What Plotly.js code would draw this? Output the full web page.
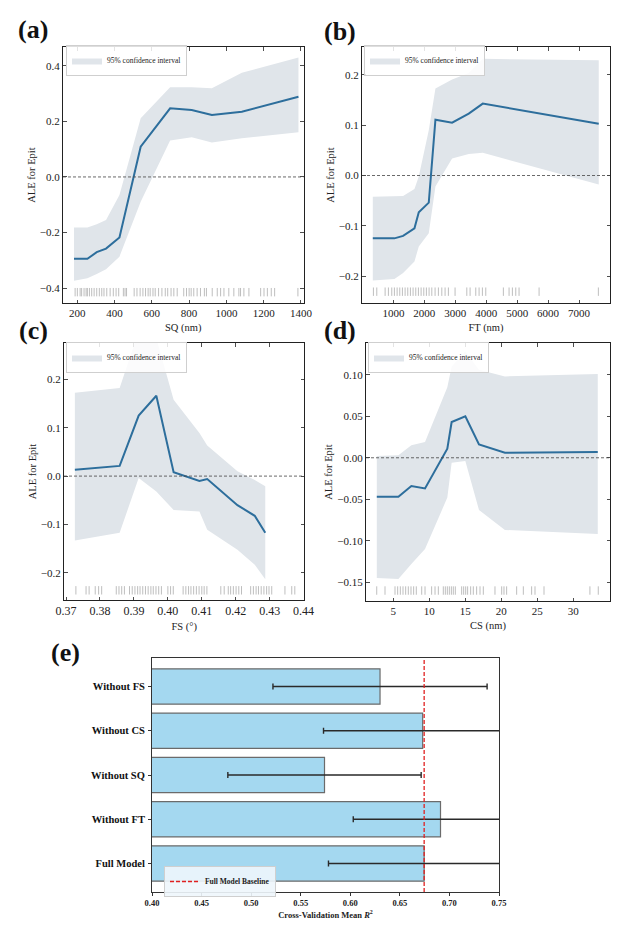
<!DOCTYPE html>
<html>
<head>
<meta charset="utf-8">
<script src="https://cdn.plot.ly/plotly-3.0.1.min.js"></script>
<style>html,body{margin:0;padding:0;background:#fff}#chart{width:634px;height:940px}</style>
</head>
<body>
<div id="chart"></div>
<script>
// ---------- Panel (a): SQ ----------
const sqX      = [182, 254, 304, 354, 426, 540, 698, 814, 922, 1083, 1387];
const sqALE    = [-0.295, -0.295, -0.271, -0.258, -0.218, 0.109, 0.247, 0.241, 0.223, 0.235, 0.289];
const sqUpper  = [-0.182, -0.182, -0.170, -0.155, -0.065, 0.211, 0.323, 0.323, 0.319, 0.375, 0.430];
const sqLower  = [-0.374, -0.365, -0.350, -0.332, -0.287, -0.089, 0.131, 0.143, 0.124, 0.139, 0.161];
const sqRug    = [188,200,215,223,236,247,254,265,277,290,304,318,331,343,358,376,393,408,422,447,456,464,
                  505,520,537,552,566,580,591,606,618,636,654,672,685,703,718,736,771,786,800,811,825,843,861,
                  882,893,924,951,969,987,1013,1040,1067,1076,1094,1121,1184,1202,1220,1241,1259,1384];
const sqTicks  = [200, 400, 600, 800, 1000, 1200, 1400];

// ---------- Panel (b): FT ----------
const ftX      = [334, 1033, 1313, 1680, 1820, 2143, 2358, 2897, 3435, 3888, 7636];
const ftALE    = [-0.125, -0.125, -0.120, -0.105, -0.073, -0.054, 0.111, 0.105, 0.123, 0.143, 0.103];
const ftUpper  = [-0.042, -0.042, -0.041, -0.027, -0.002, 0.090, 0.173, 0.191, 0.204, 0.232, 0.229];
const ftLower  = [-0.209, -0.206, -0.194, -0.171, -0.141, -0.115, -0.022, 0.034, 0.043, 0.045, -0.018];
const ftRug    = [354,463,732,839,947,1032,1120,1206,1291,1378,1464,1550,1636,1723,1808,1895,1982,2066,2153,
                  2241,2347,2454,2564,2670,2777,2993,3372,3478,3662,3769,3876,3985,4554,4738,4845,4955,5061,5708,7624];
const ftTicks  = [1000, 2000, 3000, 4000, 5000, 6000, 7000];

// ---------- Panel (c): FS ----------
const fsX      = [0.3726, 0.3858, 0.3914, 0.3966, 0.4017, 0.4093, 0.4116, 0.4205, 0.4256, 0.4287];
const fsALE    = [0.013, 0.021, 0.125, 0.166, 0.008, -0.010, -0.006, -0.060, -0.082, -0.117];
const fsUpper  = [0.172, 0.182, 0.300, 0.285, 0.158, 0.089, 0.063, 0.010, -0.008, -0.021];
const fsLower  = [-0.133, -0.117, -0.004, -0.032, -0.070, -0.073, -0.111, -0.152, -0.183, -0.213];
const fsRug    = [0.3729,0.3759,0.3768,0.3786,0.3796,0.3805,0.3848,0.3856,0.3864,0.3872,0.3887,0.3895,0.3903,
                  0.3911,0.3918,0.3926,0.3934,0.3942,0.3950,0.3957,0.3965,0.3973,0.3981,0.4000,0.4008,0.4016,
                  0.4045,0.4053,0.4061,0.4068,0.4076,0.4084,0.4092,0.4100,0.4107,0.4115,0.4156,0.4166,0.4178,
                  0.4185,0.4193,0.4201,0.4209,0.4217,0.4244,0.4252,0.4260,0.4267,0.4275,0.4283,0.4291,0.4298,
                  0.4306,0.4345,0.4365,0.4374];
const fsTicks  = [0.37, 0.38, 0.39, 0.40, 0.41, 0.42, 0.43, 0.44];

// ---------- Panel (d): CS ----------
const csX      = [2.7, 5.7, 7.5, 9.4, 12.5, 13.1, 15.0, 16.9, 20.5, 33.4];
const csALE    = [-0.047, -0.047, -0.034, -0.037, 0.011, 0.043, 0.050, 0.016, 0.006, 0.007];
const csUpper  = [0.002, 0.003, 0.015, 0.019, 0.085, 0.110, 0.128, 0.106, 0.098, 0.101];
const csLower  = [-0.145, -0.146, -0.128, -0.110, -0.048, -0.006, -0.004, -0.063, -0.087, -0.092];
const csRug    = [2.69,3.84,5.23,5.6,5.97,6.34,6.71,7.08,7.45,7.82,8.19,8.94,9.4,10.32,10.79,11.25,11.94,12.22,
                  12.5,12.78,13.06,13.33,13.61,14.49,14.77,15.05,15.32,15.74,16.11,16.57,17.04,17.5,19.12,20.05,
                  20.37,20.74,22.13,23.06,24.21,24.68,25.93,32.31,33.47];
const csTicks  = [5, 10, 15, 20, 25, 30];

// ---------- Panel (e): ablation ----------
const modelNames = ['Without FS', 'Without CS', 'Without SQ', 'Without FT', 'Full Model'];
const meanR2     = [0.630, 0.673, 0.574, 0.691, 0.6745];
const stdR2      = [0.108, 0.100, 0.0975, 0.088, 0.0965];
const baselineR2 = 0.6745;
const r2Ticks    = [0.40, 0.45, 0.50, 0.55, 0.60, 0.65, 0.70, 0.75];

// ---------- styling ----------
const SERIF = '"Liberation Serif", "Times New Roman", serif';
const W = 634, H = 940;
const LINE_C = '#2d6e9c', FILL_C = '#e0e5ea', RUG_C = 'rgba(110,110,110,0.45)';
const px = p => p / W, py = p => 1 - p / H;

const traces = [];
const panels = [
  {x: sqX, y: sqALE, up: sqUpper, lo: sqLower, rug: sqRug, rugY: -0.415, ax: ''},
  {x: ftX, y: ftALE, up: ftUpper, lo: ftLower, rug: ftRug, rugY: -0.231, ax: '2'},
  {x: fsX, y: fsALE, up: fsUpper, lo: fsLower, rug: fsRug, rugY: -0.236, ax: '3'},
  {x: csX, y: csALE, up: csUpper, lo: csLower, rug: csRug, rugY: -0.160, ax: '4'}
];
panels.forEach((p, i) => {
  const xa = 'x' + p.ax, ya = 'y' + p.ax, lg = i === 0 ? 'legend' : 'legend' + (i + 1);
  traces.push({x: p.x, y: p.lo, xaxis: xa, yaxis: ya, mode: 'lines', line: {width: 0, color: FILL_C},
               showlegend: false, hoverinfo: 'skip'});
  traces.push({x: p.x, y: p.up, xaxis: xa, yaxis: ya, mode: 'lines', line: {width: 0, color: FILL_C},
               fill: 'tonexty', fillcolor: FILL_C, name: '95% confidence interval', legend: lg, showlegend: true});
  traces.push({x: p.x, y: p.y, xaxis: xa, yaxis: ya, mode: 'lines', line: {width: 2, color: LINE_C},
               showlegend: false});
  traces.push({x: p.rug, y: p.rug.map(() => p.rugY), xaxis: xa, yaxis: ya, mode: 'markers',
               marker: {symbol: 'line-ns-open', size: 6, color: RUG_C, line: {width: 1, color: RUG_C}},
               showlegend: false});
});

traces.push({type: 'bar', orientation: 'h', x: meanR2, y: modelNames, xaxis: 'x5', yaxis: 'y5', width: 0.8,
             marker: {color: '#a4d8f0', line: {color: '#6b6b6b', width: 1.2}},
             error_x: {type: 'data', array: stdR2, color: '#2a2a2a', thickness: 1.4, width: 3},
             showlegend: false});
traces.push({x: [baselineR2, baselineR2], y: [0, 1], xaxis: 'x5', yaxis: 'y6', mode: 'lines',
             line: {color: '#e02020', width: 1.3, dash: '4px,2px'}, name: 'Full Model Baseline',
             legend: 'legend5', showlegend: true});

const baseAx = {showline: true, linecolor: '#222', linewidth: 1, mirror: 'allticks', ticks: 'inside',
  ticklen: 3.5, tickwidth: 0.8, tickcolor: '#222', showgrid: false, zeroline: false,
  tickfont: {family: SERIF, size: 11, color: '#222'}};
const ax = (o) => Object.assign({}, baseAx, o);
const xTitle = (t) => ({text: t, font: {family: SERIF, size: 10.5, color: '#222'}, standoff: 5});
const yTitle = {text: 'ALE for Epit', font: {family: SERIF, size: 10.5, color: '#222'}, standoff: 2};

const legBase = (x, y) => ({x: x, y: y, xanchor: 'left', yanchor: 'top', bgcolor: 'rgba(255,255,255,0.85)',
  bordercolor: '#cfcfcf', borderwidth: 1, font: {family: SERIF, size: 7.5, color: '#222'},
  itemwidth: 30, tracegroupgap: 0});

const zeroLine = (xr, yr) => ({type: 'line', xref: xr + ' domain', yref: yr, x0: 0, x1: 1, y0: 0, y1: 0,
  line: {color: '#444', width: 0.8, dash: '3px,2px'}, layer: 'above'});

const layout = {
  width: W, height: H, margin: {l: 0, r: 0, t: 0, b: 0}, paper_bgcolor: '#fff', plot_bgcolor: '#fff',
  showlegend: true,
  xaxis:  ax({domain: [px(63), px(303.5)], anchor: 'y', range: [123, 1414], tickvals: sqTicks, title: xTitle('SQ (nm)')}),
  yaxis:  ax({domain: [py(303), py(47)], anchor: 'x', range: [-0.454, 0.468], dtick: 0.2, tickformat: '.1f', title: yTitle}),
  xaxis2: ax({domain: [px(362), px(610)], anchor: 'y2', range: [-15, 8000], tickvals: ftTicks, title: xTitle('FT (nm)')}),
  yaxis2: ax({domain: [py(303), py(47)], anchor: 'x2', range: [-0.2535, 0.2555], dtick: 0.1, tickformat: '.1f', title: yTitle}),
  xaxis3: ax({domain: [px(64), px(304.3)], anchor: 'y3', range: [0.3694, 0.4402], tickvals: fsTicks, tickformat: '.2f',
              title: xTitle('FS (°)'), tickfont: {family: SERIF, size: 12, color: '#222'}}),
  yaxis3: ax({domain: [py(600), py(343)], anchor: 'x3', range: [-0.256, 0.275], dtick: 0.1, tickformat: '.1f', title: yTitle}),
  xaxis4: ax({domain: [px(366), px(610)], anchor: 'y4', range: [1.2, 35.1], tickvals: csTicks, title: xTitle('CS (nm)')}),
  yaxis4: ax({domain: [py(601), py(343)], anchor: 'x4', range: [-0.1726, 0.1383], dtick: 0.05, tickformat: '.2f', title: yTitle}),
  xaxis5: {domain: [px(152), px(499)], anchor: 'y5', range: [0.40, 0.75], tickvals: r2Ticks, tickformat: '.2f',
           showline: true, mirror: true, linecolor: '#333', linewidth: 1, ticks: 'outside', ticklen: 3, tickcolor: '#333',
           showgrid: false, zeroline: false,
           tickfont: {family: SERIF, size: 8.5, color: '#222', weight: 'bold'},
           title: {text: 'Cross-Validation Mean <i>R</i><sup>2</sup>', font: {family: SERIF, size: 8.5, color: '#222', weight: 'bold'}, standoff: 4}},
  yaxis5: {domain: [py(892), py(658)], anchor: 'x5', type: 'category', range: [4.645, -0.645],
           showline: true, mirror: true, linecolor: '#333', linewidth: 1, ticks: 'outside', ticklen: 3, tickcolor: '#333',
           showgrid: false, zeroline: false, ticklabelstandoff: 1,
           tickfont: {family: SERIF, size: 10.5, color: '#111', weight: 'bold'}},
  yaxis6: {overlaying: 'y5', anchor: 'x5', range: [0, 1], visible: false, fixedrange: true},
  legend:  legBase(px(66), py(45)),
  legend2: legBase(px(364), py(45)),
  legend3: legBase(px(66), py(342)),
  legend4: legBase(px(368), py(342)),
  legend5: Object.assign(legBase(px(164), py(866)), {bgcolor: 'rgba(238,246,252,0.9)', font: {family: SERIF, size: 7.5, color: '#222', weight: 'bold'}}),
  shapes: [zeroLine('x', 'y'), zeroLine('x2', 'y2'), zeroLine('x3', 'y3'), zeroLine('x4', 'y4')],
  annotations: [
    {text: '(a)', x: px(33), y: py(30)}, {text: '(b)', x: px(340), y: py(31)},
    {text: '(c)', x: px(33), y: py(331)}, {text: '(d)', x: px(340), y: py(331)},
    {text: '(e)', x: px(65), y: py(652)}
  ].map(a => Object.assign(a, {xref: 'paper', yref: 'paper', showarrow: false, xanchor: 'center', yanchor: 'middle',
      font: {family: SERIF, size: 26, color: '#111', weight: 'bold'}}))
};

Plotly.newPlot('chart', traces, layout, {displayModeBar: false, staticPlot: true});
</script>
</body>
</html>
